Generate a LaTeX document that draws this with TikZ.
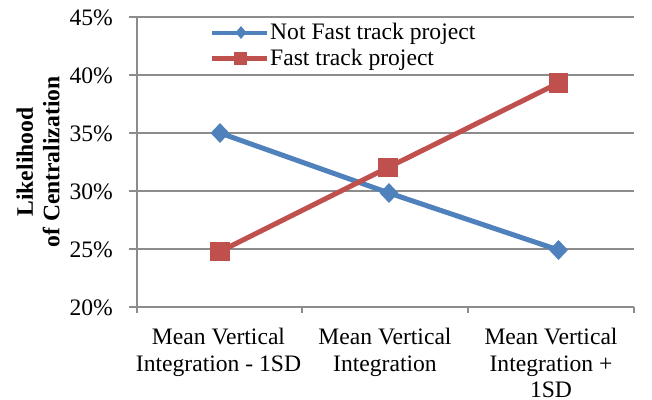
\documentclass[tikz,border=0pt]{standalone}
\usepackage{fontspec}
\setmainfont{Liberation Serif}
\usetikzlibrary{shapes.geometric}
\definecolor{serA}{HTML}{4F81BD}
\definecolor{serB}{HTML}{C0504D}
\definecolor{gridc}{HTML}{8C8C8C}
\begin{document}
\begin{tikzpicture}[x=1pt,y=-1pt,
  every node/.style={font=\fontsize{23.6}{26.5}\selectfont, inner sep=0pt},
  gridline/.style={draw=gridc, line width=1.6pt},
  axisline/.style={draw=gridc, line width=1.6pt},
  serline/.style={line width=5pt},
  dmark/.style={diamond, fill=serA, minimum width=19pt, minimum height=20pt},
  smark/.style={rectangle, fill=serB, minimum width=19.5pt, minimum height=19.5pt},
  dmarks/.style={diamond, fill=serA, minimum width=11pt, minimum height=13pt},
  smarks/.style={rectangle, fill=serB, minimum width=13pt, minimum height=13pt},
  ticklab/.style={anchor=base east},
  catlab/.style={anchor=north, align=center}]
\useasboundingbox (0,0) rectangle (652,399);
\fill[white] (0,0) rectangle (652,399);
% gridlines and ticks
\foreach \v/\y in {45/17,40/75,35/133,30/191,25/249} {
  \draw[gridline] (129,\y) -- (634,\y);
  \node[ticklab] at (113,\y+8.5) {\v\%};
}
\node[ticklab] at (113,307+8.5) {20\%};
\draw[axisline] (129,307) -- (634,307);
\draw[axisline] (137,17) -- (137,313);
\foreach \x in {302,468,634} \draw[axisline] (\x,307) -- (\x,313);
% axis title
\node[rotate=90, align=center, font=\bfseries\fontsize{23.6}{26.5}\selectfont] (ytitle) at (38,162) {Likelihood\\of Centralization};
% category labels
\node[catlab] (c1) at (218.5,328) {Mean Vertical\\Integration - 1SD};
\node[catlab] (c2) at (385,328) {Mean Vertical\\Integration};
\node[catlab] (c3) at (551,328) {Mean Vertical\\Integration +\\1SD};
% series
\coordinate (a1) at (220,133);
\coordinate (a2) at (389,193);
\coordinate (a3) at (558.5,250);
\coordinate (b1) at (220,251.5);
\coordinate (b2) at (388,167.5);
\coordinate (b3) at (558.5,83);
\draw[serline, serA] (a1) -- (a2) -- (a3);
\draw[serline, serB] (b1) -- (b2) -- (b3);
\node[dmark] (ma1) at (a1) {};
\node[dmark] (ma2) at (a2) {};
\node[dmark] (ma3) at (a3) {};
\node[smark] (mb1) at (b1) {};
\node[smark] (mb2) at (b2) {};
\node[smark] (mb3) at (b3) {};
% legend
\coordinate (la0) at (212,33);
\coordinate (la1) at (267,33);
\coordinate (lb0) at (212,58.5);
\coordinate (lb1) at (267,58.5);
\draw[serA, line width=4.6pt] (la0) -- (la1);
\draw[serB, line width=4.6pt] (lb0) -- (lb1);
\node[dmarks] (lma) at (241,32.5) {};
\node[smarks] (lmb) at (240,58.5) {};
\node[anchor=base west] (lta) at (270,39.5) {Not Fast track project};
\node[anchor=base west] (ltb) at (270,65) {Fast track project};
\end{tikzpicture}
\end{document}
